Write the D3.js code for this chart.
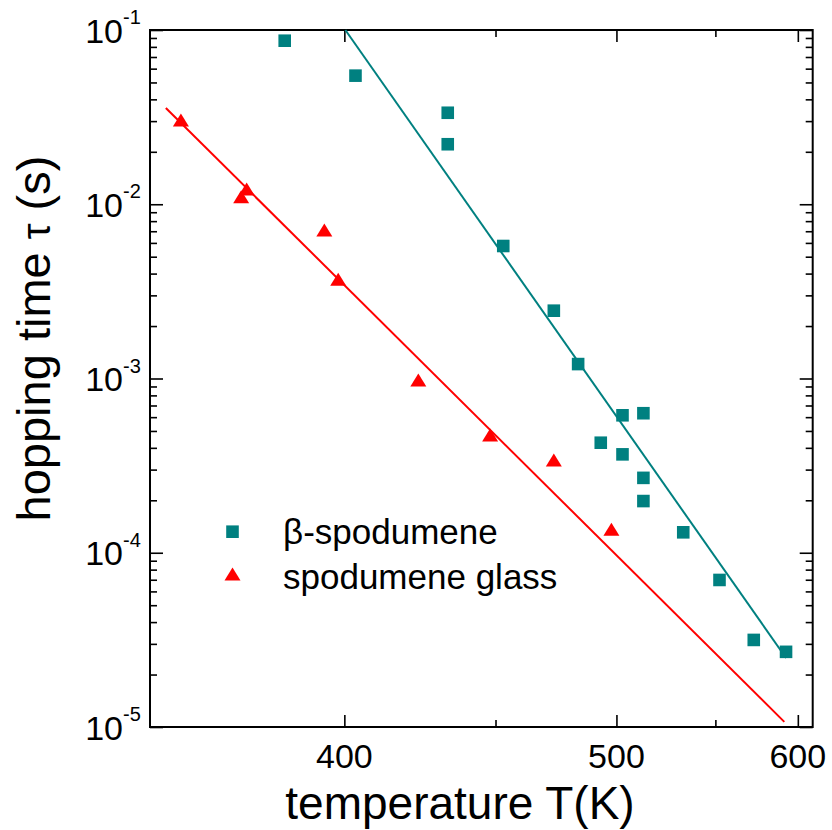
<!DOCTYPE html>
<html>
<head>
<meta charset="utf-8">
<script src="https://cdn.jsdelivr.net/npm/d3@7"></script>
<style>
  body { margin: 0; background: #fff; }
  text { font-family: "Liberation Sans", Arial, sans-serif; fill: #000; }
</style>
</head>
<body>
<script>
// beta-spodumene points: temperature (K), hopping time (s)
let betaT   = [383.2, 403.3, 432.9, 432.9, 452.9, 472.8, 483.0, 502.8, 512.7, 492.9, 502.8, 512.7, 512.7, 532.7, 552.3, 572.2, 592.3];
let betaTau = [0.0868, 0.0547, 0.0335, 0.0221, 0.00576, 0.00245, 0.00121, 0.000615, 0.000632, 0.000428, 0.000367, 0.000269, 0.000198, 0.000131, 0.0000698, 0.0000316, 0.0000270];

// spodumene glass points
let glassT   = [357.1, 371.8, 373.2, 394.2, 398.2, 423.0, 448.0, 472.8, 497.7];
let glassTau = [0.03045, 0.01105, 0.01224, 0.00712, 0.00371, 0.000980, 0.000474, 0.000341, 0.0001363];

// Arrhenius fit lines, end points [T, tau]
let betaFit  = [[400.3, 0.1], [592.3, 0.0000249]];
let glassFit = [[353.6, 0.0357], [591.2, 0.0000107]];

let xMajor = [400, 500, 600];
let xMinor = [450, 550];
let yDecades = [-5, -4, -3, -2, -1];

let width = 832, height = 830;
let pLeft = 150, pRight = 812.7, pTop = 30, pBottom = 727;
let teal = "#008080", red = "#ff0000";

let svg = d3.select("body").append("svg")
  .attr("width", width)
  .attr("height", height);

// x axis is linear in 1/T (Arrhenius plot)
let x = d3.scaleLinear().domain([1 / 350, 1 / 610]).range([pLeft, pRight]);
let y = d3.scaleLog().domain([1e-5, 1e-1]).range([pBottom, pTop]);
let xT = t => x(1 / t);

// minor y ticks 2..9 per decade
let yMinor = [];
yDecades.slice(0, 4).forEach(e => {
  for (let k = 2; k <= 9; k++) yMinor.push(k * Math.pow(10, e));
});

// ticks, all pointing inward
function addAxis(axis, tx, ty) {
  let g = svg.append("g").attr("transform", `translate(${tx},${ty})`).call(axis);
  g.select(".domain").remove();
  g.selectAll("line").attr("stroke", "#000").attr("stroke-width", 1.6);
  return g;
}
addAxis(d3.axisBottom(x).tickValues(xMajor.map(t => 1 / t)).tickSize(-12).tickFormat(""), 0, pBottom);
addAxis(d3.axisBottom(x).tickValues(xMinor.map(t => 1 / t)).tickSize(-7).tickFormat(""), 0, pBottom);
addAxis(d3.axisTop(x).tickValues(xMajor.map(t => 1 / t)).tickSize(-12).tickFormat(""), 0, pTop);
addAxis(d3.axisTop(x).tickValues(xMinor.map(t => 1 / t)).tickSize(-7).tickFormat(""), 0, pTop);
addAxis(d3.axisLeft(y).tickValues(yDecades.map(e => Math.pow(10, e))).tickSize(-13).tickFormat(""), pLeft, 0);
addAxis(d3.axisLeft(y).tickValues(yMinor).tickSize(-7).tickFormat(""), pLeft, 0);
addAxis(d3.axisRight(y).tickValues(yDecades.map(e => Math.pow(10, e))).tickSize(-13).tickFormat(""), pRight, 0);
addAxis(d3.axisRight(y).tickValues(yMinor).tickSize(-7).tickFormat(""), pRight, 0);

// frame
svg.append("rect")
  .attr("x", pLeft).attr("y", pTop)
  .attr("width", pRight - pLeft).attr("height", pBottom - pTop)
  .attr("fill", "none").attr("stroke", "#000").attr("stroke-width", 2);

// x tick labels
svg.selectAll(".xlab").data(xMajor).enter().append("text")
  .attr("x", d => xT(d))
  .attr("y", 768)
  .attr("text-anchor", "middle")
  .attr("font-size", 34)
  .text(d => d);

// y tick labels 10^n
svg.selectAll(".ylab").data(yDecades).enter().append("text")
  .attr("x", 123)
  .attr("y", d => y(Math.pow(10, d)) + 12.5)
  .attr("text-anchor", "end")
  .attr("font-size", 34)
  .text("10");
svg.selectAll(".ysup").data(yDecades).enter().append("text")
  .attr("x", 123)
  .attr("y", d => y(Math.pow(10, d)) - 6)
  .attr("font-size", 20)
  .text(d => "-" + (-d));

// fit lines
let line = d3.line().x(d => xT(d[0])).y(d => y(d[1]));
svg.append("path").datum(betaFit).attr("d", line)
  .attr("fill", "none").attr("stroke", teal).attr("stroke-width", 2);
svg.append("path").datum(glassFit).attr("d", line)
  .attr("fill", "none").attr("stroke", red).attr("stroke-width", 2);

// triangle centred on its bounding box
let tri = {
  draw(ctx, size) {
    let w = 8, h = 6.5;
    ctx.moveTo(0, -h);
    ctx.lineTo(w, h);
    ctx.lineTo(-w, h);
    ctx.closePath();
  }
};
let sq = {
  draw(ctx, size) {
    ctx.rect(-6.3, -6.3, 12.6, 12.6);
  }
};

svg.selectAll(".beta").data(betaT).enter().append("path")
  .attr("d", d3.symbol().type(sq))
  .attr("transform", (d, i) => `translate(${xT(d)},${y(betaTau[i])})`)
  .attr("fill", teal);

svg.selectAll(".glass").data(glassT).enter().append("path")
  .attr("d", d3.symbol().type(tri))
  .attr("transform", (d, i) => `translate(${xT(d)},${y(glassTau[i])})`)
  .attr("fill", red);

// legend
svg.append("path").attr("d", d3.symbol().type(sq))
  .attr("transform", "translate(232.5,531.7)").attr("fill", teal);
svg.append("path").attr("d", d3.symbol().type(tri))
  .attr("transform", "translate(232.5,574)").attr("fill", red);
svg.append("text").attr("x", 283).attr("y", 544).attr("font-size", 35).text("β-spodumene");
svg.append("text").attr("x", 283).attr("y", 589).attr("font-size", 35).text("spodumene glass");

// axis titles
svg.append("text")
  .attr("x", 460).attr("y", 819)
  .attr("text-anchor", "middle")
  .attr("font-size", 46)
  .text("temperature T(K)");

let ytitle = svg.append("text")
  .attr("transform", "translate(50,338.5) rotate(-90)")
  .attr("text-anchor", "middle")
  .attr("font-size", 47);
ytitle.append("tspan").text("hopping time ");
ytitle.append("tspan").attr("font-size", 40).text("τ");
ytitle.append("tspan").text(" (s)");
</script>
</body>
</html>
